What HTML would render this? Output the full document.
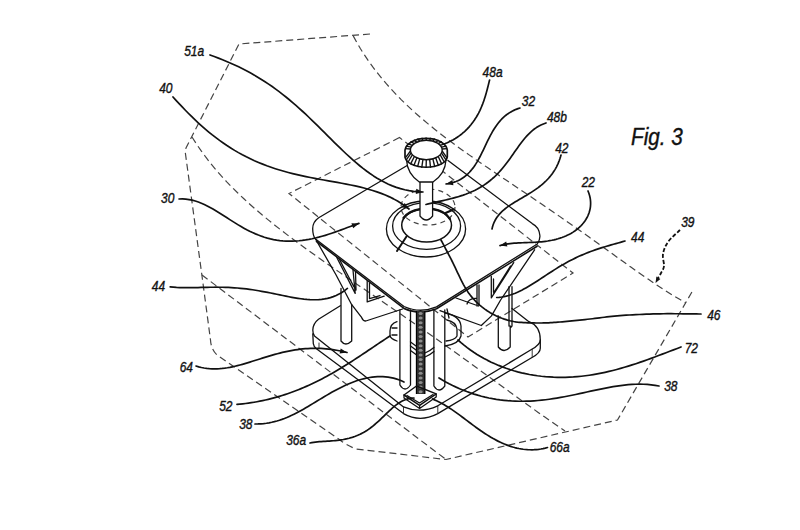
<!DOCTYPE html>
<html><head><meta charset="utf-8"><style>
html,body{margin:0;padding:0;background:#fff;width:800px;height:530px;overflow:hidden}
svg{display:block}
.ld{fill:none;stroke:#111;stroke-width:1.7;stroke-linecap:round;stroke-linejoin:round}
.ln{fill:none;stroke:#111;stroke-width:1.3;stroke-linecap:round;stroke-linejoin:round}
.th{fill:none;stroke:#222;stroke-width:0.9;stroke-linecap:round}
.ds{fill:none;stroke:#444;stroke-width:1.2;stroke-dasharray:7 4}
.lb{font-family:"Liberation Sans",sans-serif;font-style:italic;font-size:15.2px;fill:#111;stroke:#111;stroke-width:0.4}
</style></head><body>
<svg width="800" height="530" viewBox="0 0 800 530">
<rect width="800" height="530" fill="#fff"/>

<path d="M370,34 L239,44 L186,148 Q185,151 185.5,154 L202,276 L210.5,340 Q211,349 217,355 L340,440 Q346,445 356,449 L446,459.5 L617.5,420 L692.5,291" class="ds"/>
<path d="M353.20,35.90 L356.75,42.40 L360.49,48.75 L364.42,54.96 L368.52,61.03 L372.78,66.96 L377.20,72.75 L381.78,78.41 L386.49,83.94 L391.34,89.35 L396.32,94.64 L401.41,99.81 L406.62,104.87 L411.92,109.82 L417.33,114.68 L422.82,119.44 L428.39,124.12 L434.03,128.71 L439.74,133.23 L445.51,137.67 L451.34,142.06 L457.21,146.38 L463.13,150.65 L469.08,154.88 L475.06,159.07 L481.06,163.23 L487.09,167.35 L493.13,171.46 L499.18,175.54 L505.24,179.62 L511.31,183.68 L517.37,187.74 L523.43,191.81 L529.49,195.87 L535.53,199.95 L541.57,204.04 L547.59,208.14 L553.60,212.25 L559.60,216.38 L565.59,220.54 L571.56,224.71 L577.51,228.89 L583.46,233.10 L589.39,237.32 L595.32,241.56 L601.23,245.80 L607.15,250.06 L613.06,254.32 L618.98,258.58 L624.90,262.83 L630.84,267.07 L636.80,271.28 L642.78,275.47 L648.79,279.61 L654.85,283.71 L660.95,287.74 L667.10,291.70 L673.32,295.58 L679.62,299.35 L686.00,303.00" class="ds"/>
<path d="M202,275 L446,459.5" class="ds"/>
<path d="M192.00,137.00 L196.42,143.94 L201.04,150.68 L205.85,157.24 L210.83,163.62 L215.99,169.84 L221.29,175.90 L226.75,181.82 L232.34,187.60 L238.05,193.25 L243.89,198.78 L249.83,204.20 L255.87,209.52 L262.00,214.75 L268.21,219.89 L274.50,224.95 L280.85,229.94 L287.27,234.86 L293.74,239.73 L300.26,244.54 L306.82,249.31 L313.41,254.03 L320.03,258.72 L326.68,263.38 L333.35,268.01 L340.03,272.63 L346.73,277.22 L353.43,281.80 L360.14,286.38 L366.84,290.95 L373.55,295.51 L380.24,300.08 L386.93,304.65 L393.61,309.23 L400.28,313.81 L406.94,318.40 L413.59,323.00 L420.22,327.62 L426.83,332.25 L433.43,336.89 L440.02,341.54 L446.59,346.21 L453.14,350.89 L459.69,355.59 L466.23,360.29 L472.75,365.01 L479.27,369.74 L485.79,374.48 L492.31,379.22 L498.82,383.97 L505.34,388.72 L511.88,393.47 L518.42,398.21 L524.98,402.95 L531.57,407.67 L538.18,412.39 L544.82,417.08 L551.50,421.75 L558.22,426.39 L565.00,431.00" class="ds"/>
<path d="M399.5,137.5 L289,193.5 L468,337 L573,273 Z" class="ds"/>
<ellipse cx="428" cy="207" rx="27" ry="18" class="ds" style="stroke-dasharray:5 4"/>
<path d="M340.3,305.7 L318.5,319.2 Q313,323.5 312.8,330 Q312.8,334 314.5,336 L403.5,406.9 Q420,414 437.8,405.8 L531,349.8 Q540.3,344.5 540.3,339.9 Q540.3,326 528.9,321.7 L512,308.5" class="ln"/>
<path d="M312.8,334 L313.3,343.6 Q314,347.5 316.4,348.8 L403.5,413.6 Q420,423 437.8,413.6 L532,357.5 Q540.3,353 540.3,348.2 L540.3,339.9" class="ln"/>
<path d="M319,343 L319,348.8 M403.5,406.9 L403.5,413.6 M437.8,405.8 L437.8,413.6 M532.2,349.2 L532.2,357.5" class="th"/>
<path d="M341,288.4 L341,341 Q345.5,347 351.7,341 L351.7,304.7 M351.7,309 L351.7,321.7" class="ln"/>
<path d="M498.3,316 L498.3,347 Q504,354 510.2,347 L510.2,326 M509,286.7 L509,326 M512,286.7 L512,326 L510.2,328" class="ln"/>
<path d="M315.5,239 L336.1,275 L351.7,304.7 L361.6,317.4 Q363,321 365.8,321 L402.6,309" class="ln"/>
<path d="M534.6,249.8 L500.6,300 L491.5,315.9 L481.3,325.5 L440,310.7" class="ln"/>
<path d="M336.8,257.5 L355.2,293.4 L353,270 M339.5,259.5 L354,287 M355.5,271.5 L356,290" class="ln"/>
<path d="M367.2,280.7 L367.2,301.9 L384.2,296.2 M369.5,283 L369.5,298.5 L380,295.5" class="ln"/>
<path d="M513.7,262.6 L491.3,297.9 L491.3,276.3 M510.5,266 L493.5,293 M493.5,279 L493.5,292" class="ln"/>
<path d="M477,285 L477,306 M479,285 L479,305 M456,298 L478.5,306 M467,304 Q469,298 477,298.5" class="ln"/>
<path d="M408,165 L318.7,217.7 Q312.5,222 312.7,229 Q312.8,236 315.5,239 L404,306.5 Q420,313.8 436.5,306.9 L537.3,244 Q540.5,239 539.8,235 Q539,227 532.2,223.6 L448,160.5" class="ln"/>
<path d="M316,241 L404,308.4 Q420,315.6 436.5,308.8 L537.5,246" style="fill:none;stroke:#111;stroke-width:1.6;stroke-linejoin:round"/>
<rect x="416" y="311" width="9.2" height="83" fill="#303030"/>
<ellipse cx="420.6" cy="313.5" rx="2.0" ry="1.5" fill="#8c8c8c"/>
<ellipse cx="420.6" cy="318.1" rx="2.0" ry="1.5" fill="#8c8c8c"/>
<ellipse cx="420.6" cy="322.7" rx="2.0" ry="1.5" fill="#8c8c8c"/>
<ellipse cx="420.6" cy="327.3" rx="2.0" ry="1.5" fill="#8c8c8c"/>
<ellipse cx="420.6" cy="331.9" rx="2.0" ry="1.5" fill="#8c8c8c"/>
<ellipse cx="420.6" cy="336.5" rx="2.0" ry="1.5" fill="#8c8c8c"/>
<ellipse cx="420.6" cy="341.1" rx="2.0" ry="1.5" fill="#8c8c8c"/>
<ellipse cx="420.6" cy="345.7" rx="2.0" ry="1.5" fill="#8c8c8c"/>
<ellipse cx="420.6" cy="350.3" rx="2.0" ry="1.5" fill="#8c8c8c"/>
<ellipse cx="420.6" cy="354.9" rx="2.0" ry="1.5" fill="#8c8c8c"/>
<ellipse cx="420.6" cy="359.5" rx="2.0" ry="1.5" fill="#8c8c8c"/>
<ellipse cx="420.6" cy="364.1" rx="2.0" ry="1.5" fill="#8c8c8c"/>
<ellipse cx="420.6" cy="368.7" rx="2.0" ry="1.5" fill="#8c8c8c"/>
<ellipse cx="420.6" cy="373.3" rx="2.0" ry="1.5" fill="#8c8c8c"/>
<ellipse cx="420.6" cy="377.9" rx="2.0" ry="1.5" fill="#8c8c8c"/>
<ellipse cx="420.6" cy="382.5" rx="2.0" ry="1.5" fill="#8c8c8c"/>
<ellipse cx="420.6" cy="387.1" rx="2.0" ry="1.5" fill="#8c8c8c"/>
<ellipse cx="420.6" cy="391.7" rx="2.0" ry="1.5" fill="#8c8c8c"/>
<path d="M416.4,311 L416.4,394 M424.8,311 L424.8,394" style="stroke:#000;stroke-width:1.1;fill:none"/>
<path d="M399.9,310 L399.9,385 Q405,393 410.5,385 L410.5,310" class="ln"/>
<path d="M433.9,310 L433.9,386 Q439,394 444.8,386 L444.8,310 M447,309 L449,318" class="ln"/>
<path d="M410.5,342 L416,346 M410.5,346 L416,350 M410.5,350.5 L416,354.5 M425,353 Q430,351 433.9,347.5 M425,357 Q430,355 433.9,351.5" class="ln"/>
<path d="M397,321.7 Q390,324 390,331 L390,336 Q391,339 397,341 M392,328 L397,328 M392,335 L397,335" class="ln"/>
<path d="M445,313 Q460,316 461,326 L461,336 Q459,344 445,346 M447,320 Q456,322 457,329 L457,336 Q455,340 446,341" class="ln"/>
<path d="M404,395 L416.5,386 L436.2,393.9 L419.6,405.3 Z" class="ln" style="stroke-width:1.5"/>
<path d="M404,395 L404,398 L419.6,408.5 L436.2,397 L436.2,393.9 M419.6,405.3 L419.6,408.5 M407,395.5 L419.5,403 L433,394.5" class="ln"/>
<ellipse cx="426" cy="229" rx="39.6" ry="28" class="ln"/>
<ellipse cx="426.6" cy="226" rx="34" ry="23.4" class="ln"/>
<path d="M401.7,225.3 A24.9,16.6 0 0 0 451.5,225.3 A24.9,16.6 0 0 0 432.6,209 M420,209.2 A24.9,16.6 0 0 0 401.7,225.3" class="ln" style="stroke-width:1.5"/>
<path d="M403.5,218 A24.9,16.6 0 0 1 420,209.2 M432.6,209 A24.9,16.6 0 0 1 450,219" class="ln" style="stroke-width:2.3"/>
<path d="M406.5,236.5 L397,251 M445.5,213 L453.5,209.5" class="ln" style="stroke-width:2"/>
<path d="M420,180 L420,216 Q426.3,224 432.6,216 L432.6,180" class="ln" style="fill:#fff"/>
<path d="M406.5,160 C407,169 412,177 419.3,182 L433,182 C440.5,177 445.5,169 446,160 Z" class="ln" style="fill:#fff"/>
<path d="M405,150 A21.2,12.5 0 0 1 447.3,150 L447.3,157 A21.2,11 0 0 1 405,157 Z" class="ln" style="fill:#fff;stroke-width:1.7"/>
<line x1="442.1" y1="151.0" x2="447.2" y2="158.1" style="stroke:#111;stroke-width:1.35"/>
<line x1="441.4" y1="152.9" x2="446.3" y2="160.4" style="stroke:#111;stroke-width:1.35"/>
<line x1="440.1" y1="154.7" x2="444.5" y2="162.5" style="stroke:#111;stroke-width:1.35"/>
<line x1="438.1" y1="156.3" x2="441.9" y2="164.4" style="stroke:#111;stroke-width:1.35"/>
<line x1="435.6" y1="157.6" x2="438.6" y2="165.9" style="stroke:#111;stroke-width:1.35"/>
<line x1="432.8" y1="158.6" x2="434.8" y2="167.0" style="stroke:#111;stroke-width:1.35"/>
<line x1="429.6" y1="159.2" x2="430.6" y2="167.8" style="stroke:#111;stroke-width:1.35"/>
<line x1="426.3" y1="159.4" x2="426.1" y2="168.0" style="stroke:#111;stroke-width:1.35"/>
<line x1="423.0" y1="159.2" x2="421.7" y2="167.8" style="stroke:#111;stroke-width:1.35"/>
<line x1="419.8" y1="158.6" x2="417.5" y2="167.0" style="stroke:#111;stroke-width:1.35"/>
<line x1="417.0" y1="157.6" x2="413.7" y2="165.9" style="stroke:#111;stroke-width:1.35"/>
<line x1="414.5" y1="156.3" x2="410.4" y2="164.4" style="stroke:#111;stroke-width:1.35"/>
<line x1="412.5" y1="154.7" x2="407.8" y2="162.5" style="stroke:#111;stroke-width:1.35"/>
<line x1="411.2" y1="152.9" x2="406.0" y2="160.4" style="stroke:#111;stroke-width:1.35"/>
<line x1="410.5" y1="151.0" x2="405.1" y2="158.1" style="stroke:#111;stroke-width:1.35"/>
<line x1="410.5" y1="149.0" x2="405.1" y2="148.7" style="stroke:#111;stroke-width:1.35"/>
<line x1="411.2" y1="147.1" x2="406.0" y2="146.1" style="stroke:#111;stroke-width:1.35"/>
<line x1="412.5" y1="145.3" x2="407.8" y2="143.8" style="stroke:#111;stroke-width:1.35"/>
<line x1="414.5" y1="143.7" x2="410.4" y2="141.6" style="stroke:#111;stroke-width:1.35"/>
<line x1="417.0" y1="142.4" x2="413.7" y2="139.9" style="stroke:#111;stroke-width:1.35"/>
<line x1="419.8" y1="141.4" x2="417.5" y2="138.6" style="stroke:#111;stroke-width:1.35"/>
<line x1="423.0" y1="140.8" x2="421.7" y2="137.8" style="stroke:#111;stroke-width:1.35"/>
<line x1="426.3" y1="140.6" x2="426.1" y2="137.5" style="stroke:#111;stroke-width:1.35"/>
<line x1="429.6" y1="140.8" x2="430.6" y2="137.8" style="stroke:#111;stroke-width:1.35"/>
<line x1="432.8" y1="141.4" x2="434.8" y2="138.6" style="stroke:#111;stroke-width:1.35"/>
<line x1="435.6" y1="142.4" x2="438.6" y2="139.9" style="stroke:#111;stroke-width:1.35"/>
<line x1="438.1" y1="143.7" x2="441.9" y2="141.6" style="stroke:#111;stroke-width:1.35"/>
<line x1="440.1" y1="145.3" x2="444.5" y2="143.8" style="stroke:#111;stroke-width:1.35"/>
<line x1="441.4" y1="147.1" x2="446.3" y2="146.1" style="stroke:#111;stroke-width:1.35"/>
<line x1="442.1" y1="149.0" x2="447.2" y2="148.7" style="stroke:#111;stroke-width:1.35"/>
<ellipse cx="426.3" cy="150" rx="15.9" ry="9.7" class="ln" style="fill:#fff;stroke-width:1.4"/>
<path d="M210.00,55.00 L214.23,56.53 L218.41,58.11 L222.55,59.74 L226.64,61.43 L230.69,63.17 L234.69,64.98 L238.65,66.84 L242.56,68.77 L246.42,70.77 L250.24,72.83 L254.01,74.96 L257.73,77.15 L261.41,79.41 L265.04,81.73 L268.63,84.12 L272.18,86.57 L275.69,89.09 L279.15,91.67 L282.58,94.31 L285.97,97.00 L289.33,99.75 L292.65,102.56 L295.95,105.41 L299.21,108.31 L302.45,111.25 L305.66,114.23 L308.85,117.25 L312.02,120.30 L315.18,123.37 L318.32,126.46 L321.46,129.57 L324.59,132.69 L327.71,135.81 L330.84,138.93 L333.97,142.04 L337.11,145.13 L340.26,148.21 L343.43,151.25 L346.62,154.25 L349.84,157.21 L353.09,160.12 L356.37,162.96 L359.70,165.73 L363.07,168.42 L366.49,171.02 L369.97,173.52 L373.51,175.91 L377.11,178.18 L380.79,180.32 L384.55,182.32 L388.39,184.17 L392.33,185.85 L396.36,187.35 L400.50,188.67 L404.75,189.79 L409.12,190.69 L413.61,191.37 L418.24,191.81 L423.00,192.00" class="ld" style="stroke-width:1.70"/>
<path d="M423.0,192.0 L415.8,193.9 L416.3,188.8 Z" fill="#111" stroke="none"/>
<path d="M173.00,97.00 L176.03,100.32 L179.10,103.64 L182.21,106.95 L185.37,110.24 L188.57,113.50 L191.82,116.72 L195.12,119.90 L198.46,123.03 L201.85,126.10 L205.29,129.11 L208.77,132.05 L212.31,134.92 L215.90,137.70 L219.53,140.41 L223.22,143.03 L226.95,145.57 L230.74,148.01 L234.57,150.36 L238.45,152.62 L242.37,154.78 L246.34,156.84 L250.36,158.81 L254.42,160.69 L258.52,162.47 L262.66,164.16 L266.84,165.76 L271.06,167.26 L275.31,168.69 L279.60,170.03 L283.92,171.29 L288.27,172.48 L292.65,173.60 L297.05,174.66 L301.47,175.66 L305.92,176.61 L310.38,177.51 L314.85,178.38 L319.33,179.22 L323.82,180.03 L328.32,180.84 L332.81,181.64 L337.30,182.44 L341.79,183.27 L346.26,184.12 L350.72,185.01 L355.16,185.95 L359.57,186.95 L363.96,188.03 L368.32,189.20 L372.64,190.47 L376.91,191.86 L381.14,193.37 L385.32,195.04 L389.44,196.86 L393.50,198.87 L397.49,201.07 L401.41,203.48 L405.25,206.11 L409.00,209.00" class="ld" style="stroke-width:1.70"/>
<path d="M409.0,209.0 L401.8,207.2 L404.7,202.9 Z" fill="#111" stroke="none"/>
<path d="M179.00,199.00 L182.42,198.93 L185.75,199.12 L189.00,199.55 L192.18,200.19 L195.29,201.03 L198.34,202.04 L201.35,203.21 L204.31,204.51 L207.22,205.93 L210.11,207.46 L212.97,209.06 L215.80,210.74 L218.62,212.46 L221.43,214.23 L224.22,216.02 L227.02,217.81 L229.81,219.61 L232.61,221.39 L235.41,223.14 L238.22,224.86 L241.05,226.53 L243.89,228.14 L246.75,229.69 L249.63,231.16 L252.53,232.55 L255.45,233.86 L258.40,235.07 L261.37,236.18 L264.37,237.19 L267.40,238.09 L270.45,238.88 L273.53,239.56 L276.64,240.12 L279.77,240.56 L282.92,240.89 L286.10,241.09 L289.30,241.18 L292.52,241.16 L295.76,241.02 L299.01,240.77 L302.28,240.41 L305.56,239.95 L308.85,239.39 L312.14,238.73 L315.43,237.99 L318.71,237.17 L321.99,236.27 L325.26,235.31 L328.51,234.29 L331.74,233.23 L334.95,232.12 L338.12,231.00 L341.25,229.85 L344.34,228.70 L347.38,227.57 L350.36,226.45 L353.28,225.38 L356.13,224.36 L358.90,223.40" class="ld" style="stroke-width:1.70"/>
<path d="M358.9,223.4 L353.2,228.2 L351.4,223.3 Z" fill="#111" stroke="none"/>
<path d="M489.60,80.00 L489.26,81.33 L488.93,82.67 L488.59,84.02 L488.25,85.36 L487.91,86.71 L487.57,88.06 L487.21,89.41 L486.85,90.76 L486.48,92.11 L486.11,93.46 L485.72,94.81 L485.31,96.15 L484.90,97.49 L484.47,98.83 L484.03,100.16 L483.57,101.49 L483.09,102.81 L482.60,104.12 L482.08,105.42 L481.55,106.72 L481.00,108.01 L480.43,109.28 L479.84,110.55 L479.22,111.80 L478.59,113.05 L477.93,114.28 L477.25,115.50 L476.55,116.70 L475.82,117.89 L475.07,119.07 L474.30,120.23 L473.50,121.37 L472.68,122.50 L471.84,123.60 L470.97,124.70 L470.08,125.77 L469.17,126.82 L468.23,127.85 L467.27,128.87 L466.28,129.86 L465.28,130.83 L464.25,131.78 L463.20,132.70 L462.13,133.61 L461.04,134.49 L459.93,135.34 L458.80,136.17 L457.65,136.97 L456.48,137.75 L455.30,138.50 L454.09,139.23 L452.88,139.93 L451.64,140.60 L450.40,141.24 L449.14,141.85 L447.87,142.43 L446.59,142.99 L445.30,143.51 L444.00,144.00" class="ld" style="stroke-width:1.70"/>
<path d="M520.00,108.00 L518.02,108.63 L516.11,109.34 L514.29,110.13 L512.54,110.98 L510.86,111.90 L509.25,112.88 L507.70,113.92 L506.22,115.03 L504.80,116.19 L503.44,117.40 L502.13,118.66 L500.87,119.98 L499.67,121.34 L498.51,122.74 L497.39,124.18 L496.31,125.66 L495.27,127.18 L494.27,128.73 L493.30,130.31 L492.35,131.91 L491.44,133.54 L490.54,135.19 L489.67,136.85 L488.81,138.54 L487.97,140.23 L487.13,141.94 L486.31,143.65 L485.49,145.37 L484.68,147.08 L483.86,148.80 L483.04,150.51 L482.21,152.21 L481.38,153.90 L480.53,155.58 L479.66,157.24 L478.78,158.88 L477.87,160.49 L476.94,162.09 L475.98,163.65 L474.99,165.18 L473.96,166.68 L472.90,168.13 L471.79,169.55 L470.64,170.92 L469.45,172.25 L468.20,173.52 L466.90,174.74 L465.55,175.90 L464.14,177.00 L462.66,178.04 L461.11,179.02 L459.50,179.92 L457.82,180.75 L456.06,181.50 L454.22,182.17 L452.29,182.76 L450.29,183.27 L448.19,183.68 L446.00,184.00" class="ld" style="stroke-width:1.70"/>
<path d="M446.0,184.0 L452.4,180.1 L453.4,185.2 Z" fill="#111" stroke="none"/>
<path d="M546.00,123.00 L543.39,123.93 L540.93,125.01 L538.61,126.23 L536.41,127.58 L534.32,129.04 L532.33,130.62 L530.44,132.28 L528.63,134.04 L526.89,135.87 L525.21,137.76 L523.59,139.71 L522.01,141.70 L520.47,143.74 L518.95,145.80 L517.46,147.89 L515.98,149.99 L514.51,152.09 L513.04,154.20 L511.57,156.30 L510.08,158.39 L508.58,160.46 L507.06,162.51 L505.51,164.53 L503.93,166.51 L502.32,168.46 L500.68,170.37 L498.99,172.23 L497.26,174.04 L495.49,175.80 L493.68,177.51 L491.81,179.16 L489.90,180.75 L487.93,182.28 L485.92,183.75 L483.86,185.16 L481.74,186.50 L479.58,187.79 L477.38,189.01 L475.12,190.17 L472.82,191.27 L470.48,192.31 L468.10,193.29 L465.68,194.22 L463.24,195.09 L460.76,195.91 L458.25,196.69 L455.73,197.42 L453.19,198.11 L450.64,198.77 L448.09,199.39 L445.53,199.99 L442.99,200.56 L440.46,201.12 L437.95,201.67 L435.47,202.22 L433.02,202.76 L430.63,203.32 L428.28,203.90 L426.00,204.50" class="ld" style="stroke-width:1.70"/>
<path d="M561.00,155.00 L560.51,156.78 L559.97,158.54 L559.38,160.26 L558.74,161.94 L558.04,163.60 L557.30,165.22 L556.52,166.80 L555.68,168.35 L554.80,169.86 L553.87,171.34 L552.90,172.79 L551.88,174.20 L550.82,175.58 L549.72,176.92 L548.58,178.23 L547.40,179.50 L546.19,180.75 L544.93,181.96 L543.65,183.14 L542.32,184.29 L540.97,185.42 L539.59,186.52 L538.19,187.59 L536.75,188.64 L535.30,189.66 L533.82,190.66 L532.33,191.65 L530.81,192.62 L529.29,193.57 L527.75,194.51 L526.20,195.44 L524.65,196.35 L523.09,197.27 L521.53,198.18 L519.98,199.08 L518.43,199.99 L516.88,200.90 L515.35,201.82 L513.83,202.75 L512.33,203.69 L510.85,204.65 L509.39,205.63 L507.96,206.63 L506.57,207.66 L505.20,208.72 L503.88,209.81 L502.60,210.94 L501.36,212.11 L500.17,213.33 L499.04,214.60 L497.97,215.92 L496.96,217.30 L496.01,218.74 L495.14,220.26 L494.34,221.84 L493.62,223.50 L492.99,225.25 L492.45,227.08 L492.00,229.00" class="ld" style="stroke-width:1.70"/>
<path d="M588.00,191.00 L588.88,193.26 L589.57,195.51 L590.09,197.73 L590.42,199.92 L590.60,202.08 L590.61,204.20 L590.48,206.29 L590.20,208.33 L589.78,210.33 L589.24,212.27 L588.57,214.17 L587.78,216.01 L586.88,217.79 L585.88,219.51 L584.78,221.17 L583.58,222.77 L582.30,224.31 L580.94,225.77 L579.50,227.18 L577.99,228.51 L576.41,229.78 L574.77,230.98 L573.08,232.11 L571.33,233.18 L569.53,234.17 L567.69,235.10 L565.81,235.97 L563.89,236.77 L561.94,237.50 L559.96,238.17 L557.96,238.79 L555.93,239.34 L553.88,239.84 L551.82,240.28 L549.74,240.67 L547.66,241.02 L545.56,241.31 L543.46,241.57 L541.35,241.79 L539.24,241.97 L537.13,242.13 L535.02,242.25 L532.91,242.36 L530.80,242.45 L528.70,242.52 L526.61,242.59 L524.52,242.66 L522.44,242.73 L520.36,242.81 L518.30,242.91 L516.24,243.03 L514.18,243.17 L512.14,243.36 L510.10,243.58 L508.07,243.85 L506.05,244.19 L504.03,244.58 L502.01,245.05 L500.00,245.60" class="ld" style="stroke-width:1.70"/>
<path d="M500.0,245.6 L506.2,241.5 L507.4,246.5 Z" fill="#111" stroke="none"/>
<path d="M625.00,241.00 L622.71,241.66 L620.42,242.31 L618.12,242.96 L615.82,243.61 L613.51,244.26 L611.20,244.92 L608.90,245.58 L606.59,246.26 L604.29,246.95 L602.00,247.66 L599.71,248.39 L597.43,249.14 L595.15,249.91 L592.89,250.71 L590.64,251.53 L588.40,252.38 L586.17,253.26 L583.95,254.17 L581.74,255.11 L579.55,256.08 L577.37,257.08 L575.21,258.11 L573.06,259.17 L570.92,260.25 L568.79,261.37 L566.68,262.51 L564.58,263.69 L562.50,264.88 L560.42,266.10 L558.36,267.34 L556.30,268.61 L554.26,269.89 L552.22,271.18 L550.19,272.49 L548.17,273.81 L546.15,275.13 L544.13,276.46 L542.12,277.79 L540.11,279.12 L538.10,280.44 L536.08,281.75 L534.06,283.04 L532.03,284.31 L529.99,285.56 L527.95,286.78 L525.89,287.96 L523.81,289.11 L521.72,290.21 L519.60,291.25 L517.47,292.24 L515.30,293.17 L513.11,294.03 L510.89,294.81 L508.63,295.51 L506.33,296.12 L503.99,296.63 L501.61,297.03 L499.18,297.33 L496.70,297.50" class="ld" style="stroke-width:1.70"/>
<path d="M701.00,314.00 L699.02,313.98 L696.53,313.96 L693.61,313.92 L690.33,313.87 L686.77,313.83 L683.00,313.79 L679.09,313.75 L675.11,313.73 L671.14,313.71 L667.25,313.72 L663.51,313.75 L660.00,313.80 L656.60,313.87 L653.16,313.97 L649.70,314.07 L646.22,314.19 L642.76,314.33 L639.31,314.48 L635.91,314.64 L632.56,314.81 L629.27,314.99 L626.08,315.18 L622.98,315.39 L620.00,315.60 L617.15,315.83 L614.42,316.08 L611.80,316.35 L609.26,316.63 L606.79,316.92 L604.38,317.23 L601.99,317.53 L599.63,317.84 L597.27,318.14 L594.88,318.44 L592.47,318.73 L590.00,319.00 L587.47,319.27 L584.91,319.55 L582.31,319.83 L579.70,320.10 L577.09,320.38 L574.50,320.65 L571.93,320.91 L569.41,321.16 L566.94,321.40 L564.54,321.62 L562.22,321.82 L560.00,322.00 L557.89,322.16 L555.90,322.31 L553.99,322.45 L552.16,322.57 L550.38,322.69 L548.64,322.78 L546.92,322.86 L545.21,322.93 L543.47,322.97 L541.71,323.00 L539.89,323.01 L538.00,323.00 L536.04,322.98 L534.02,322.95 L531.97,322.92 L529.88,322.87 L527.78,322.81 L525.67,322.72 L523.58,322.61 L521.51,322.46 L519.47,322.29 L517.48,322.07 L515.55,321.81 L513.70,321.50 L511.91,321.15 L510.17,320.76 L508.47,320.33 L506.80,319.87 L505.18,319.37 L503.58,318.84 L502.01,318.28 L500.47,317.69 L498.96,317.06 L497.46,316.40 L495.97,315.72 L494.50,315.00 L493.04,314.26 L491.61,313.48 L490.20,312.68 L488.81,311.84 L487.45,310.97 L486.11,310.07 L484.78,309.14 L483.49,308.18 L482.21,307.19 L480.95,306.16 L479.71,305.10 L478.50,304.00 L477.32,302.89 L476.18,301.79 L475.07,300.68 L474.00,299.54 L472.94,298.38 L471.90,297.17 L470.87,295.90 L469.84,294.57 L468.80,293.15 L467.75,291.64 L466.69,290.03 L465.60,288.30 L464.48,286.41 L463.34,284.35 L462.19,282.14 L461.02,279.83 L459.85,277.43 L458.68,274.98 L457.52,272.52 L456.37,270.06 L455.23,267.65 L454.12,265.32 L453.04,263.09 L452.00,261.00 L450.96,258.96 L449.89,256.89 L448.81,254.81 L447.73,252.76 L446.68,250.74 L445.65,248.79 L444.67,246.94 L443.76,245.21 L442.92,243.63 L442.17,242.21 L441.52,240.99 L441.00,240.00" class="ld" style="stroke-width:1.70"/>
<path d="M681.00,347.00 L677.26,348.42 L673.52,349.84 L669.78,351.27 L666.05,352.71 L662.30,354.14 L658.56,355.56 L654.81,356.97 L651.05,358.37 L647.28,359.74 L643.50,361.08 L639.71,362.40 L635.91,363.69 L632.10,364.93 L628.28,366.14 L624.44,367.30 L620.59,368.42 L616.73,369.48 L612.85,370.49 L608.96,371.44 L605.06,372.33 L601.14,373.15 L597.21,373.91 L593.27,374.60 L589.31,375.22 L585.35,375.76 L581.37,376.23 L577.39,376.62 L573.40,376.93 L569.40,377.15 L565.40,377.29 L561.40,377.35 L557.39,377.31 L553.38,377.19 L549.38,376.97 L545.37,376.67 L541.38,376.27 L537.39,375.77 L533.42,375.18 L529.45,374.49 L525.51,373.70 L521.58,372.81 L517.67,371.83 L513.79,370.75 L509.94,369.56 L506.12,368.28 L502.33,366.90 L498.58,365.41 L494.87,363.83 L491.21,362.15 L487.59,360.37 L484.03,358.49 L480.53,356.51 L477.09,354.44 L473.72,352.27 L470.41,350.00 L467.18,347.64 L464.04,345.18 L460.97,342.64 L458.00,340.00" class="ld" style="stroke-width:1.70"/>
<path d="M659.00,386.00 L655.08,385.32 L651.18,384.81 L647.31,384.46 L643.45,384.26 L639.62,384.19 L635.80,384.26 L632.00,384.43 L628.21,384.71 L624.43,385.09 L620.66,385.55 L616.90,386.08 L613.14,386.68 L609.39,387.34 L605.64,388.05 L601.90,388.80 L598.15,389.57 L594.41,390.37 L590.67,391.19 L586.92,392.01 L583.18,392.84 L579.43,393.66 L575.68,394.46 L571.92,395.25 L568.16,396.01 L564.40,396.74 L560.63,397.43 L556.86,398.08 L553.09,398.68 L549.31,399.23 L545.53,399.72 L541.74,400.16 L537.95,400.52 L534.16,400.82 L530.37,401.04 L526.58,401.19 L522.78,401.26 L518.99,401.25 L515.20,401.15 L511.42,400.97 L507.64,400.70 L503.86,400.33 L500.09,399.88 L496.33,399.33 L492.58,398.69 L488.85,397.96 L485.12,397.13 L481.42,396.20 L477.73,395.18 L474.06,394.07 L470.41,392.86 L466.79,391.56 L463.19,390.16 L459.63,388.68 L456.09,387.11 L452.59,385.45 L449.13,383.71 L445.71,381.88 L442.33,379.98 L439.00,378.00" class="ld" style="stroke-width:1.70"/>
<path d="M547.50,447.50 L545.27,448.10 L543.05,448.61 L540.82,449.02 L538.60,449.34 L536.38,449.57 L534.16,449.72 L531.96,449.78 L529.76,449.76 L527.57,449.66 L525.40,449.49 L523.24,449.24 L521.09,448.92 L518.95,448.53 L516.83,448.07 L514.72,447.55 L512.63,446.97 L510.56,446.32 L508.50,445.63 L506.46,444.87 L504.44,444.07 L502.44,443.21 L500.45,442.31 L498.49,441.37 L496.54,440.38 L494.61,439.35 L492.69,438.29 L490.80,437.19 L488.92,436.06 L487.05,434.90 L485.20,433.71 L483.37,432.50 L481.55,431.27 L479.74,430.01 L477.95,428.74 L476.17,427.46 L474.40,426.16 L472.63,424.86 L470.88,423.55 L469.13,422.23 L467.38,420.91 L465.64,419.60 L463.90,418.28 L462.16,416.98 L460.41,415.68 L458.67,414.39 L456.91,413.12 L455.15,411.86 L453.38,410.62 L451.60,409.41 L449.80,408.22 L447.98,407.05 L446.14,405.91 L444.28,404.81 L442.40,403.74 L440.49,402.71 L438.55,401.71 L436.57,400.76 L434.55,399.86 L432.50,399.00" class="ld" style="stroke-width:1.70"/>
<path d="M196.00,366.00 L198.72,366.82 L201.41,367.48 L204.08,368.01 L206.73,368.41 L209.36,368.68 L211.97,368.84 L214.56,368.89 L217.15,368.84 L219.71,368.69 L222.27,368.46 L224.81,368.15 L227.35,367.77 L229.87,367.32 L232.39,366.81 L234.90,366.25 L237.40,365.64 L239.90,364.99 L242.40,364.31 L244.89,363.59 L247.38,362.85 L249.87,362.09 L252.36,361.31 L254.85,360.53 L257.34,359.73 L259.83,358.94 L262.32,358.16 L264.82,357.38 L267.31,356.61 L269.82,355.86 L272.32,355.12 L274.83,354.41 L277.34,353.73 L279.86,353.07 L282.39,352.45 L284.91,351.87 L287.45,351.32 L289.99,350.81 L292.53,350.34 L295.08,349.92 L297.64,349.54 L300.20,349.21 L302.77,348.93 L305.35,348.70 L307.92,348.53 L310.51,348.41 L313.10,348.34 L315.69,348.33 L318.29,348.37 L320.89,348.47 L323.49,348.62 L326.10,348.84 L328.71,349.10 L331.32,349.43 L333.94,349.81 L336.55,350.24 L339.16,350.73 L341.78,351.27 L344.39,351.86 L347.00,352.50" class="ld" style="stroke-width:1.70"/>
<path d="M347.0,352.5 L339.6,353.5 L340.7,348.4 Z" fill="#111" stroke="none"/>
<path d="M237.00,404.40 L239.87,404.14 L242.73,403.83 L245.60,403.49 L248.45,403.11 L251.30,402.69 L254.15,402.23 L256.99,401.73 L259.82,401.19 L262.64,400.61 L265.45,399.99 L268.26,399.34 L271.05,398.65 L273.83,397.92 L276.61,397.15 L279.37,396.35 L282.12,395.51 L284.86,394.63 L287.58,393.72 L290.30,392.77 L293.00,391.79 L295.69,390.77 L298.36,389.72 L301.03,388.64 L303.68,387.53 L306.31,386.39 L308.93,385.21 L311.54,384.01 L314.14,382.77 L316.72,381.51 L319.29,380.22 L321.85,378.91 L324.40,377.57 L326.93,376.20 L329.45,374.81 L331.96,373.40 L334.45,371.97 L336.94,370.51 L339.41,369.04 L341.88,367.55 L344.33,366.04 L346.78,364.52 L349.22,362.98 L351.64,361.43 L354.06,359.87 L356.48,358.30 L358.89,356.72 L361.29,355.13 L363.69,353.53 L366.08,351.93 L368.47,350.32 L370.86,348.72 L373.25,347.11 L375.63,345.51 L378.02,343.91 L380.41,342.31 L382.80,340.72 L385.19,339.13 L387.59,337.56 L390.00,336.00" class="ld" style="stroke-width:1.70"/>
<path d="M255.00,424.00 L257.94,423.96 L260.81,423.82 L263.62,423.58 L266.38,423.24 L269.08,422.80 L271.73,422.27 L274.34,421.66 L276.91,420.96 L279.44,420.19 L281.94,419.35 L284.41,418.43 L286.85,417.45 L289.26,416.41 L291.66,415.32 L294.04,414.17 L296.41,412.97 L298.76,411.73 L301.11,410.46 L303.45,409.14 L305.78,407.80 L308.11,406.43 L310.45,405.05 L312.78,403.64 L315.12,402.22 L317.46,400.80 L319.82,399.37 L322.17,397.95 L324.54,396.53 L326.93,395.12 L329.32,393.73 L331.72,392.36 L334.14,391.01 L336.58,389.70 L339.03,388.41 L341.49,387.17 L343.97,385.97 L346.46,384.82 L348.98,383.73 L351.50,382.69 L354.04,381.72 L356.60,380.81 L359.17,379.98 L361.76,379.23 L364.36,378.56 L366.97,377.98 L369.59,377.49 L372.22,377.11 L374.87,376.82 L377.51,376.65 L380.17,376.58 L382.83,376.64 L385.49,376.82 L388.15,377.13 L390.81,377.58 L393.46,378.16 L396.11,378.89 L398.75,379.77 L401.38,380.80 L404.00,382.00" class="ld" style="stroke-width:1.70"/>
<path d="M310.00,443.00 L311.78,442.64 L313.61,442.34 L315.48,442.09 L317.38,441.89 L319.32,441.71 L321.28,441.56 L323.26,441.43 L325.26,441.30 L327.27,441.17 L329.29,441.04 L331.31,440.90 L333.33,440.73 L335.35,440.55 L337.36,440.33 L339.36,440.09 L341.35,439.80 L343.32,439.48 L345.27,439.10 L347.21,438.69 L349.12,438.22 L351.01,437.69 L352.88,437.11 L354.72,436.48 L356.53,435.79 L358.32,435.04 L360.08,434.23 L361.82,433.37 L363.52,432.45 L365.20,431.47 L366.85,430.44 L368.48,429.35 L370.08,428.21 L371.66,427.03 L373.21,425.80 L374.75,424.53 L376.26,423.23 L377.76,421.89 L379.25,420.52 L380.72,419.13 L382.19,417.72 L383.65,416.30 L385.11,414.87 L386.57,413.45 L388.04,412.03 L389.51,410.63 L391.00,409.26 L392.51,407.91 L394.04,406.61 L395.60,405.37 L397.19,404.18 L398.82,403.06 L400.50,402.02 L402.22,401.08 L404.01,400.23 L405.85,399.51 L407.77,398.91 L409.76,398.45 L411.83,398.14 L414.00,398.00" class="ld" style="stroke-width:1.70"/>
<path d="M170.20,286.90 L173.33,287.19 L176.45,287.41 L179.55,287.55 L182.65,287.64 L185.73,287.68 L188.81,287.68 L191.88,287.65 L194.94,287.60 L197.99,287.53 L201.04,287.46 L204.09,287.38 L207.13,287.32 L210.16,287.26 L213.20,287.23 L216.23,287.21 L219.26,287.23 L222.29,287.27 L225.31,287.34 L228.34,287.45 L231.37,287.60 L234.39,287.79 L237.42,288.02 L240.44,288.29 L243.47,288.60 L246.50,288.96 L249.52,289.35 L252.55,289.78 L255.58,290.25 L258.61,290.75 L261.64,291.29 L264.67,291.85 L267.70,292.43 L270.73,293.04 L273.75,293.66 L276.78,294.29 L279.81,294.92 L282.83,295.54 L285.85,296.16 L288.87,296.75 L291.88,297.32 L294.89,297.85 L297.90,298.34 L300.90,298.77 L303.89,299.14 L306.88,299.44 L309.86,299.64 L312.83,299.75 L315.79,299.75 L318.74,299.62 L321.68,299.36 L324.60,298.95 L327.51,298.37 L330.41,297.61 L333.29,296.66 L336.15,295.50 L339.00,294.11 L341.82,292.47 L344.62,290.58 L347.40,288.40" class="ld" style="stroke-width:1.70"/>
<path d="M680.0,230.0 C678.0,232.0 670.8,238.0 668.0,242.0 C665.2,246.0 663.7,250.0 663.0,254.0 C662.3,258.0 664.3,262.8 664.0,266.0 C663.7,269.2 662.0,271.0 661.0,273.0 C660.0,275.0 658.5,277.2 658.0,278.0" style="fill:none;stroke:#111;stroke-width:1.8;stroke-dasharray:4 2"/>
<path d="M655.5,283.0 L656.4,276.6 L660.4,278.9 Z" fill="#111" stroke="none"/>
<text class="lb" transform="translate(184.15,56.05) scale(0.79,1)">51a</text>
<text class="lb" transform="translate(159.20,92.95) scale(0.79,1)">40</text>
<text class="lb" transform="translate(482.60,77.40) scale(0.79,1)">48a</text>
<text class="lb" transform="translate(521.80,106.40) scale(0.79,1)">32</text>
<text class="lb" transform="translate(546.90,121.90) scale(0.79,1)">48b</text>
<text class="lb" transform="translate(555.20,152.90) scale(0.79,1)">42</text>
<text class="lb" transform="translate(581.70,187.40) scale(0.79,1)">22</text>
<text class="lb" transform="translate(161.00,202.80) scale(0.79,1)">30</text>
<text class="lb" transform="translate(681.20,227.40) scale(0.79,1)">39</text>
<text class="lb" transform="translate(631.00,242.40) scale(0.79,1)">44</text>
<text class="lb" transform="translate(151.75,291.15) scale(0.79,1)">44</text>
<text class="lb" transform="translate(707.20,319.90) scale(0.79,1)">46</text>
<text class="lb" transform="translate(684.70,352.90) scale(0.79,1)">72</text>
<text class="lb" transform="translate(179.70,372.40) scale(0.79,1)">64</text>
<text class="lb" transform="translate(664.20,391.40) scale(0.79,1)">38</text>
<text class="lb" transform="translate(219.20,411.40) scale(0.79,1)">52</text>
<text class="lb" transform="translate(239.20,429.40) scale(0.79,1)">38</text>
<text class="lb" transform="translate(286.20,445.40) scale(0.79,1)">36a</text>
<text class="lb" transform="translate(549.70,452.15) scale(0.79,1)">66a</text>
<text class="lb" style="font-size:23px" transform="translate(631,145) scale(0.9,1)">Fig. 3</text>
</svg></body></html>
